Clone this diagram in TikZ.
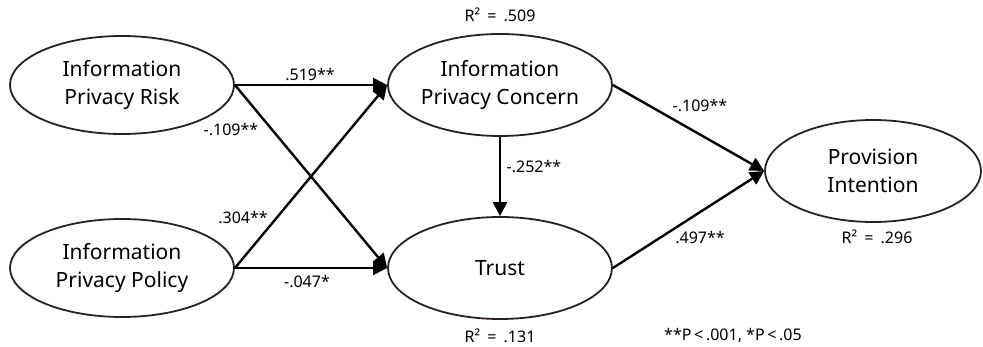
\documentclass[tikz,border=0pt]{standalone}
\usepackage{fontspec}
\setmainfont{Noto Sans}
\usetikzlibrary{shapes.geometric,arrows.meta}
\definecolor{rim}{HTML}{2A2020}
\newcommand{\rsq}[1]{R²\hspace{0.45em}=\hspace{0.45em}#1}
\tikzset{
  construct/.style={ellipse, draw=rim, line width=1.8pt, minimum width=224pt,
    minimum height=98pt, inner sep=0pt, align=center, font=\fontsize{21}{28}\selectfont},
  path/.style={line width=2.4pt, -{Triangle[length=14pt,width=14pt]}},
  coef/.style={font=\fontsize{16}{19}\selectfont, inner sep=1pt},
}
\begin{document}
\begin{tikzpicture}[x=1pt,y=-1pt]
  \useasboundingbox (0,0) rectangle (983,347);
  % latent constructs
  \node[construct] (risk)   at (122,85)  {Information\\Privacy Risk};
  \node[construct] (policy) at (122,268) {Information\\Privacy Policy};
  \node[construct, minimum height=102pt] (concern) at (500,85) {Information\\Privacy Concern};
  \node[construct, minimum height=102pt] (trust)   at (500,268) {Trust};
  \node[construct, minimum width=216pt, minimum height=102pt] (intent) at (873,171) {Provision\\Intention};
  % structural paths
  \draw[path] (risk.east) -- (concern.west);
  \draw[path] (risk.east) -- (trust.west);
  \draw[path] (policy.east) -- (concern.west);
  \draw[path] (policy.east) -- (trust.west);
  \draw[path] (concern.south) -- (trust.north);
  \draw[path] (concern.east) -- (intent.west);
  \draw[path] (trust.east) -- (intent.west);
  % path coefficients
  \node[coef] (c1) at (310,75)  {.519**};
  \node[coef] (c2) at (231,130) {-.109**};
  \node[coef] (c3) at (243,218) {.304**};
  \node[coef] (c4) at (307,282) {-.047*};
  \node[coef] (c5) at (534,167) {-.252**};
  \node[coef] (c6) at (700,106) {-.109**};
  \node[coef] (c7) at (700,238) {.497**};
  % explained variance
  \node[coef] (r1) at (500,15)  {\rsq{.509}};
  \node[coef] (r2) at (500,336) {\rsq{.131}};
  \node[coef] (r3) at (877,237) {\rsq{.296}};
  \node[coef] (note) at (733,335) {**P\,<\,.001, *P\,<\,.05};
\end{tikzpicture}
\end{document}
